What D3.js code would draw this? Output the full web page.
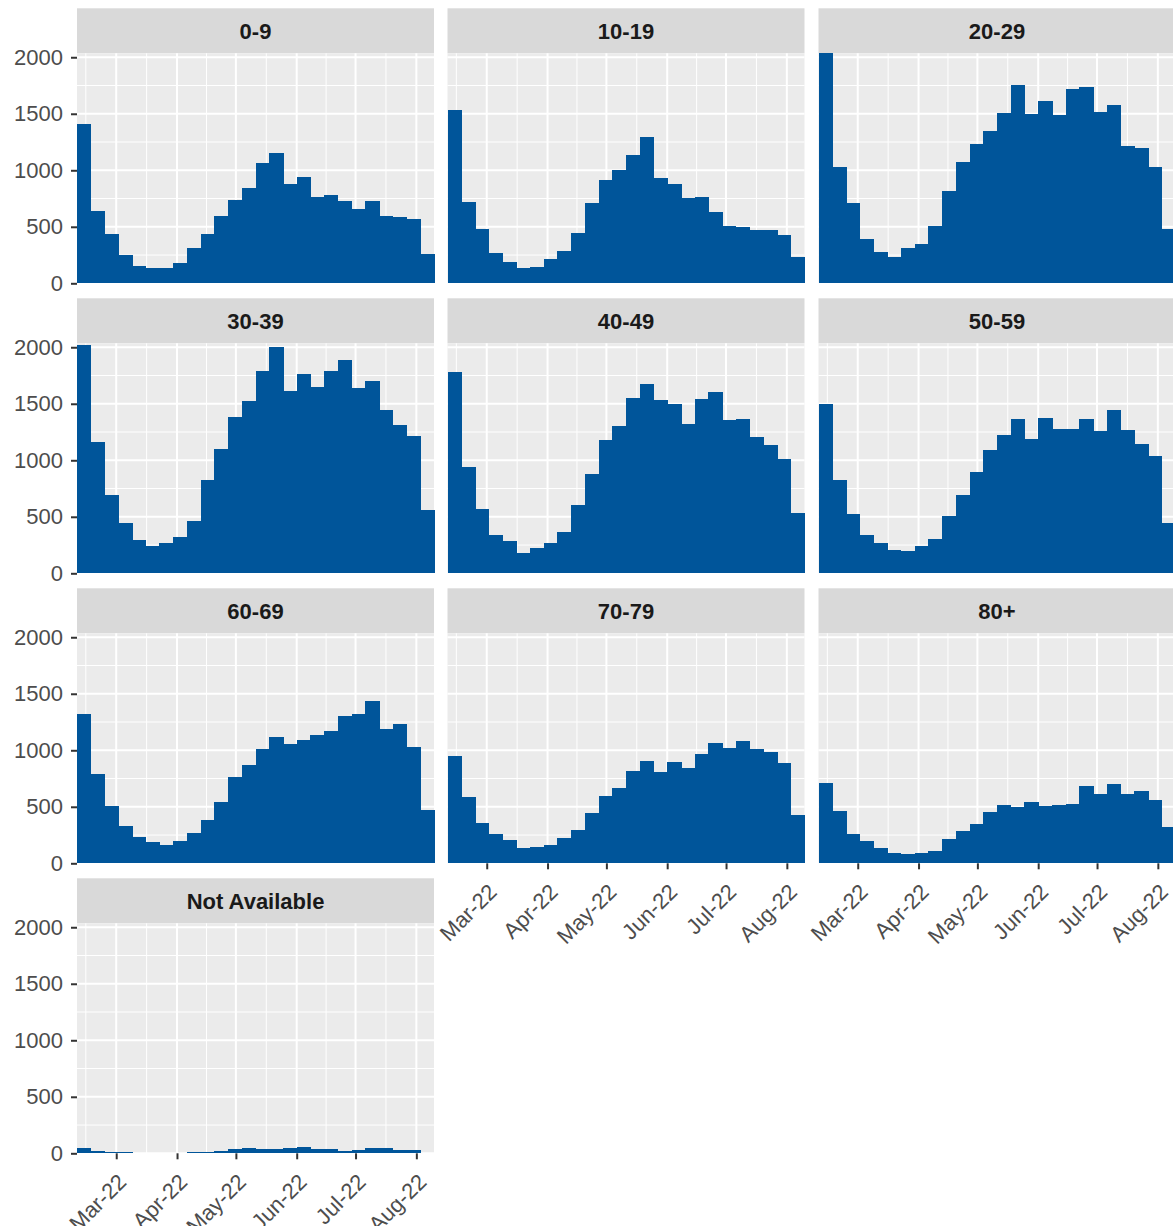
<!DOCTYPE html>
<html>
<head>
<meta charset="utf-8">
<script src="https://cdn.jsdelivr.net/npm/d3@7"></script>
<style>
  body { margin: 0; background: #fff; }
  svg { display: block; font-family: "Liberation Sans", Arial, sans-serif; }
</style>
</head>
<body>
<div id="chart"></div>
<script>
// weekly bins (start date of each 7-day bin)
var weeks = ['2022-02-09', '2022-02-16', '2022-02-23', '2022-03-02', '2022-03-09', '2022-03-16',
    '2022-03-23', '2022-03-30', '2022-04-06', '2022-04-13', '2022-04-20', '2022-04-27',
    '2022-05-04', '2022-05-11', '2022-05-18', '2022-05-25', '2022-06-01', '2022-06-08',
    '2022-06-15', '2022-06-22', '2022-06-29', '2022-07-06', '2022-07-13', '2022-07-20',
    '2022-07-27', '2022-08-03'];

var ageGroups = ['0-9', '10-19', '20-29', '30-39', '40-49', '50-59', '60-69', '70-79', '80+', 'Not Available'];

var age0to9 = [1410, 643, 434, 251, 156, 139, 133, 183, 310, 434, 599, 735, 841, 1062, 1150, 876, 944, 761, 782, 726, 655, 726, 596, 587, 569, 257];
var age10to19 = [1534, 717, 481, 266, 189, 133, 142, 212, 289, 448, 708, 912, 1006, 1133, 1292, 932, 879, 755, 767, 631, 507, 502, 472, 469, 431, 236];
var age20to29 = [2035, 1033, 714, 395, 280, 236, 310, 348, 510, 814, 1071, 1233, 1348, 1505, 1752, 1502, 1614, 1493, 1717, 1741, 1513, 1578, 1215, 1201, 1030, 478];
var age30to39 = [2020, 1164, 691, 441, 294, 241, 265, 323, 467, 823, 1103, 1385, 1523, 1794, 2000, 1617, 1767, 1652, 1794, 1885, 1643, 1699, 1447, 1314, 1214, 562];
var age40to49 = [1785, 944, 570, 338, 285, 182, 226, 270, 368, 600, 879, 1182, 1299, 1549, 1673, 1535, 1496, 1317, 1541, 1608, 1358, 1364, 1208, 1132, 1011, 532];
var age50to59 = [1499, 826, 526, 335, 270, 209, 194, 241, 306, 503, 691, 894, 1094, 1223, 1364, 1185, 1373, 1276, 1276, 1367, 1255, 1446, 1270, 1144, 1035, 444];
var age60to69 = [1320, 791, 509, 326, 232, 188, 165, 197, 265, 382, 541, 764, 870, 1011, 1114, 1055, 1088, 1132, 1167, 1299, 1317, 1438, 1185, 1232, 1026, 476];
var age70to79 = [953, 585, 356, 256, 206, 138, 141, 162, 220, 297, 447, 594, 664, 814, 903, 806, 894, 847, 967, 1064, 1023, 1085, 1014, 988, 885, 423];
var age80plus = [714, 459, 259, 194, 138, 91, 79, 91, 109, 212, 285, 350, 456, 512, 497, 541, 506, 512, 523, 688, 615, 703, 615, 638, 564, 318];
var ageNA = [44, 21, 9, 15, 3, 3, 3, 6, 9, 15, 21, 35, 44, 41, 35, 47, 59, 41, 41, 24, 27, 44, 47, 32, 27, 6];

var yTicks = [0, 500, 1000, 1500, 2000];
var yMinor = [250, 750, 1250, 1750];

var W = 1173, H = 1226;
var ncol = 3;
var colLeft = [77, 447.5, 818.5];
var panelW = 357;
var panelH = 230;
var stripH = 45;
var rowStep = 290;
var firstBottom = 283.3;
var barColor = '#00559A';

var parse = d3.timeParse('%Y-%m-%d');
var weekDates = weeks.map(parse);
var series = [age0to9, age10to19, age20to29, age30to39, age40to49, age50to59, age60to69, age70to79, age80plus, ageNA];

var svg = d3.select('#chart').append('svg')
    .attr('width', W)
    .attr('height', H)
    .attr('viewBox', '0 0 ' + W + ' ' + H);

svg.append('rect').attr('width', W).attr('height', H).attr('fill', '#fff');

var x = d3.scaleTime()
    .domain([weekDates[0], d3.timeDay.offset(weekDates[weekDates.length - 1], 7)])
    .range([0, panelW]);

var y = d3.scaleLinear()
    .domain([0, d3.max(series, function (s) { return d3.max(s); })])
    .range([panelH, 0]);

// month breaks and ggplot-style minor breaks (midpoints, extended one step)
var majors = d3.timeMonth.range(d3.timeMonth.ceil(x.domain()[0]), x.domain()[1]);
var step = majors[1] - majors[0];
var ext = [new Date(+majors[0] - step)].concat(majors, [new Date(+majors[majors.length - 1] + step)]);
var minors = [];
for (var i = 0; i < ext.length - 1; i++) {
    var mid = new Date((+ext[i] + +ext[i + 1]) / 2);
    if (mid >= x.domain()[0] && mid <= x.domain()[1]) minors.push(mid);
}
var fmt = d3.timeFormat('%b-%y');

ageGroups.forEach(function (name, idx) {
    var col = idx % ncol;
    var row = Math.floor(idx / ncol);
    var left = colLeft[col];
    var bottom = firstBottom + row * rowStep;
    var top = bottom - panelH;

    var g = svg.append('g').attr('transform', 'translate(' + left + ',' + top + ')');

    // strip
    g.append('rect')
        .attr('x', 0).attr('y', -stripH)
        .attr('width', panelW).attr('height', stripH)
        .attr('fill', '#D9D9D9');
    g.append('text')
        .attr('x', panelW / 2).attr('y', -stripH / 2 + 1)
        .attr('text-anchor', 'middle')
        .attr('dominant-baseline', 'central')
        .attr('font-size', 22)
        .attr('font-weight', 'bold')
        .attr('fill', '#1A1A1A')
        .text(name);

    // panel background + grid
    g.append('rect').attr('width', panelW).attr('height', panelH).attr('fill', '#EBEBEB');

    g.selectAll('.hminor').data(yMinor).enter().append('line')
        .attr('x1', 0).attr('x2', panelW)
        .attr('y1', function (d) { return y(d); }).attr('y2', function (d) { return y(d); })
        .attr('stroke', '#fff').attr('stroke-width', 1);
    g.selectAll('.vminor').data(minors).enter().append('line')
        .attr('y1', 0).attr('y2', panelH)
        .attr('x1', function (d) { return x(d); }).attr('x2', function (d) { return x(d); })
        .attr('stroke', '#fff').attr('stroke-width', 1);
    g.selectAll('.hmajor').data(yTicks).enter().append('line')
        .attr('x1', 0).attr('x2', panelW)
        .attr('y1', function (d) { return y(d); }).attr('y2', function (d) { return y(d); })
        .attr('stroke', '#fff').attr('stroke-width', 2);
    g.selectAll('.vmajor').data(majors).enter().append('line')
        .attr('y1', 0).attr('y2', panelH)
        .attr('x1', function (d) { return x(d); }).attr('x2', function (d) { return x(d); })
        .attr('stroke', '#fff').attr('stroke-width', 2);

    // bars
    g.selectAll('.bar').data(series[idx]).enter().append('rect')
        .attr('x', function (d, i) { return x(weekDates[i]); })
        .attr('width', function (d, i) { return x(d3.timeDay.offset(weekDates[i], 7)) - x(weekDates[i]) + 0.6; })
        .attr('y', function (d) { return y(d); })
        .attr('height', function (d) { return panelH - y(d); })
        .attr('shape-rendering', 'crispEdges')
        .attr('fill', barColor);

    // y axis on first column
    if (col === 0) {
        var ya = g.append('g')
            .call(d3.axisLeft(y).tickValues(yTicks).tickSize(6).tickPadding(8).tickFormat(d3.format('d')));
        ya.select('.domain').remove();
        ya.selectAll('line').attr('stroke', '#333').attr('stroke-width', 2);
        ya.selectAll('text')
            .attr('font-size', 22)
            .attr('font-family', '"Liberation Sans", Arial, sans-serif')
            .attr('fill', '#4D4D4D');
    }

    // x axis on last panel of each column
    if (idx + ncol >= ageGroups.length) {
        var xa = g.append('g')
            .attr('transform', 'translate(0,' + panelH + ')')
            .call(d3.axisBottom(x).tickValues(majors).tickSize(6).tickFormat(fmt));
        xa.select('.domain').remove();
        xa.selectAll('line').attr('stroke', '#333').attr('stroke-width', 2);
        xa.selectAll('text')
            .attr('font-size', 22)
            .attr('font-family', '"Liberation Sans", Arial, sans-serif')
            .attr('fill', '#4D4D4D')
            .attr('text-anchor', 'end')
            .attr('y', 0).attr('dy', 0)
            .attr('transform', 'translate(11,30) rotate(-45)');
    }
});
</script>
</body>
</html>
